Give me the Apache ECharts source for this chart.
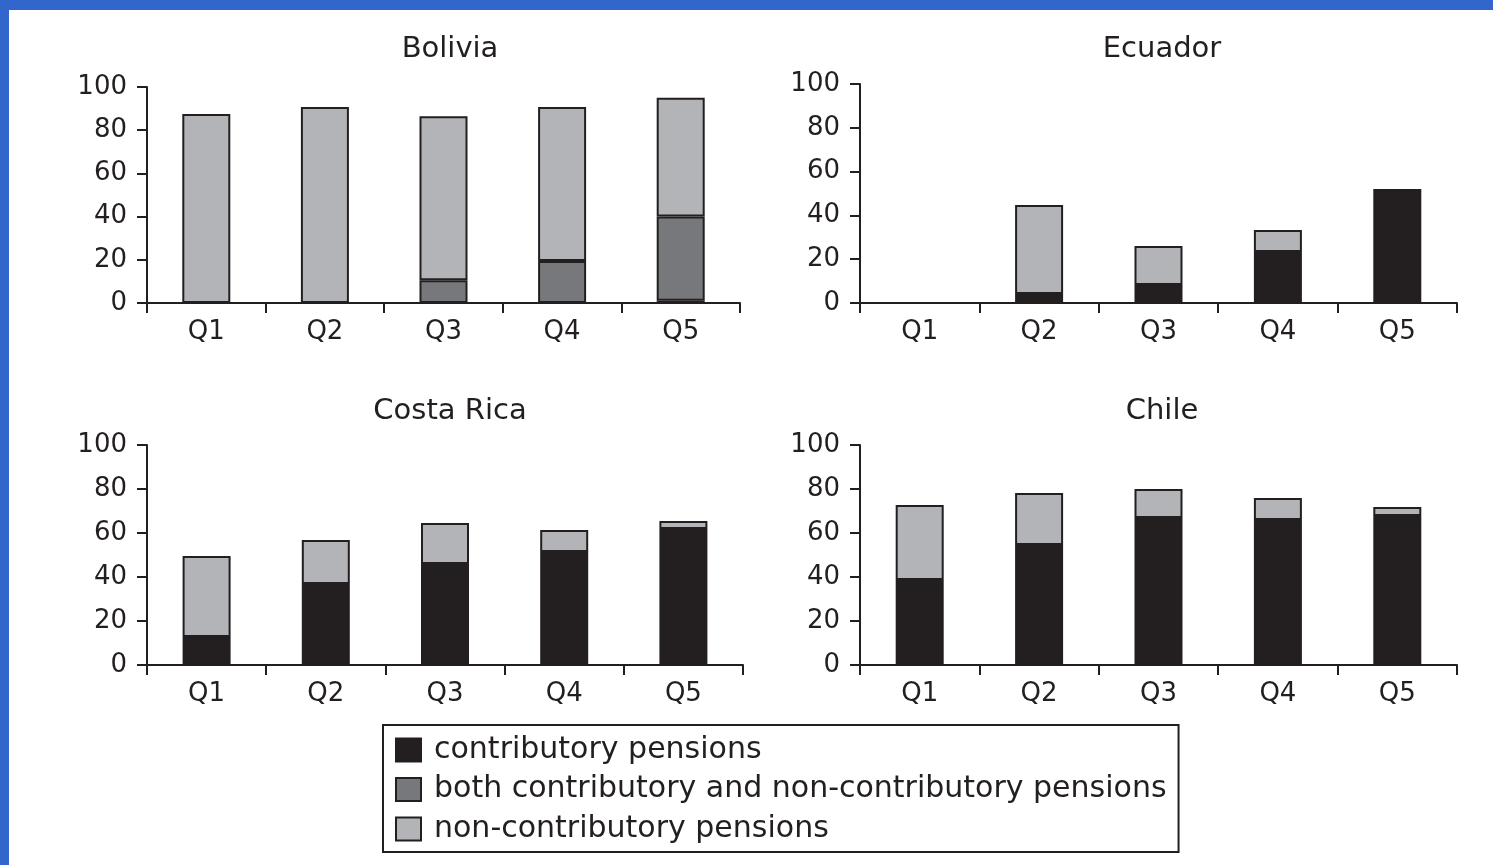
<!DOCTYPE html>
<html>
<head>
<meta charset="utf-8">
<script src="https://cdn.jsdelivr.net/npm/echarts@6/dist/echarts.min.js"></script>
<style>html,body{margin:0;padding:0;background:#fff;}#c{width:1493px;height:865px;}</style>
</head>
<body>
<div id="c"></div>
<script>
const categories = ['Q1','Q2','Q3','Q4','Q5'];
const countries = ['Bolivia','Ecuador','Costa Rica','Chile'];
const seriesNames = ['contributory pensions','both contributory and non-contributory pensions','non-contributory pensions'];
const yTicks = [0,20,40,60,80,100];
// values per country: contributory, both, non-contributory
const boliviaContrib = [null, null, null, null, 1];
const boliviaBoth = [null, null, 10.5, 19.5, 39];
const boliviaNon = [87.5, 90.7, 76, 71.2, 55];
const ecuadorContrib = [null, 4.1, 8.2, 23.3, 52];
const ecuadorBoth = [null, null, null, null, null];
const ecuadorNon = [null, 40.6, 17.8, 10, null];
const costaContrib = [12.7, 36.8, 45.9, 51.4, 61.8];
const costaBoth = [null, null, null, null, null];
const costaNon = [36.8, 20, 18.6, 10, 3.7];
const chileContrib = [38.6, 54.5, 66.8, 65.9, 67.7];
const chileBoth = [null, null, null, null, null];
const chileNon = [34.1, 23.7, 13.2, 10, 4.1];

const data = [
  [boliviaContrib, boliviaBoth, boliviaNon],
  [ecuadorContrib, ecuadorBoth, ecuadorNon],
  [costaContrib, costaBoth, costaNon],
  [chileContrib, chileBoth, chileNon]
];
const colors = ['#231f20', '#77787b', '#b3b4b7'];
const ink = '#231f20';
const font = 'DejaVu Sans';

const grids = [
  {left:147, top:87, right:753, bottom:562},
  {left:860, top:84, right:36, bottom:562},
  {left:147, top:445, right:750, bottom:200},
  {left:860, top:445, right:36, bottom:200}
];
const titlePos = [[445,30],[1157,30],[445,392],[1157,392]];

const option = {
  animation:false,
  backgroundColor:'#fff',
  textStyle:{fontFamily:font},
  title: countries.map((c,i)=>({text:c, left:titlePos[i][0], top:titlePos[i][1], textAlign:'center',
    textStyle:{fontFamily:font, fontSize:29, fontWeight:'normal', color:ink}})),
  grid: grids.map(g=>Object.assign({containLabel:false}, g)),
  xAxis: grids.map((g,i)=>({type:'category', gridIndex:i, data:categories,
    axisLine:{lineStyle:{color:ink,width:2}},
    axisTick:{show:true, alignWithLabel:false, length:10, inside:false, lineStyle:{color:ink,width:2}},
    axisLabel:{fontFamily:font, fontSize:26, color:ink, margin:16}})),
  yAxis: grids.map((g,i)=>({type:'value', gridIndex:i, min:0, max:100, interval:20,
    splitLine:{show:false},
    axisLine:{show:true, lineStyle:{color:ink,width:2}},
    axisTick:{show:true, length:10, lineStyle:{color:ink,width:2}},
    axisLabel:{fontFamily:font, fontSize:26, color:ink, margin:20,
      formatter:v=>yTicks.includes(v)?String(v):''}})),
  legend:{
    orient:'vertical', left:383, top:725, height:400,
    padding:[10,12,8,12], itemGap:9.5, itemWidth:25, itemHeight:23,
    borderColor:ink, borderWidth:2, backgroundColor:'#fff',
    data:seriesNames, icon:'rect',
    textStyle:{fontFamily:font, fontSize:30, color:ink, padding:[0,0,0,8]},
    selectedMode:false
  },
  graphic:[
    {type:'rect', shape:{x:0,y:0,width:1493,height:10}, style:{fill:'#3366cc'}, silent:true},
    {type:'rect', shape:{x:0,y:0,width:9,height:865}, style:{fill:'#3366cc'}, silent:true}
  ],
  series:[]
};
data.forEach((set,gi)=>{
  set.forEach((vals,si)=>{
    option.series.push({
      type:'bar', name:seriesNames[si], xAxisIndex:gi, yAxisIndex:gi, stack:'s'+gi,
      barWidth:48, data:vals,
      itemStyle:{color:colors[si], borderColor:ink, borderWidth:2}
    });
  });
});
const chart = echarts.init(document.getElementById('c'));
chart.setOption(option);
</script>
</body>
</html>
